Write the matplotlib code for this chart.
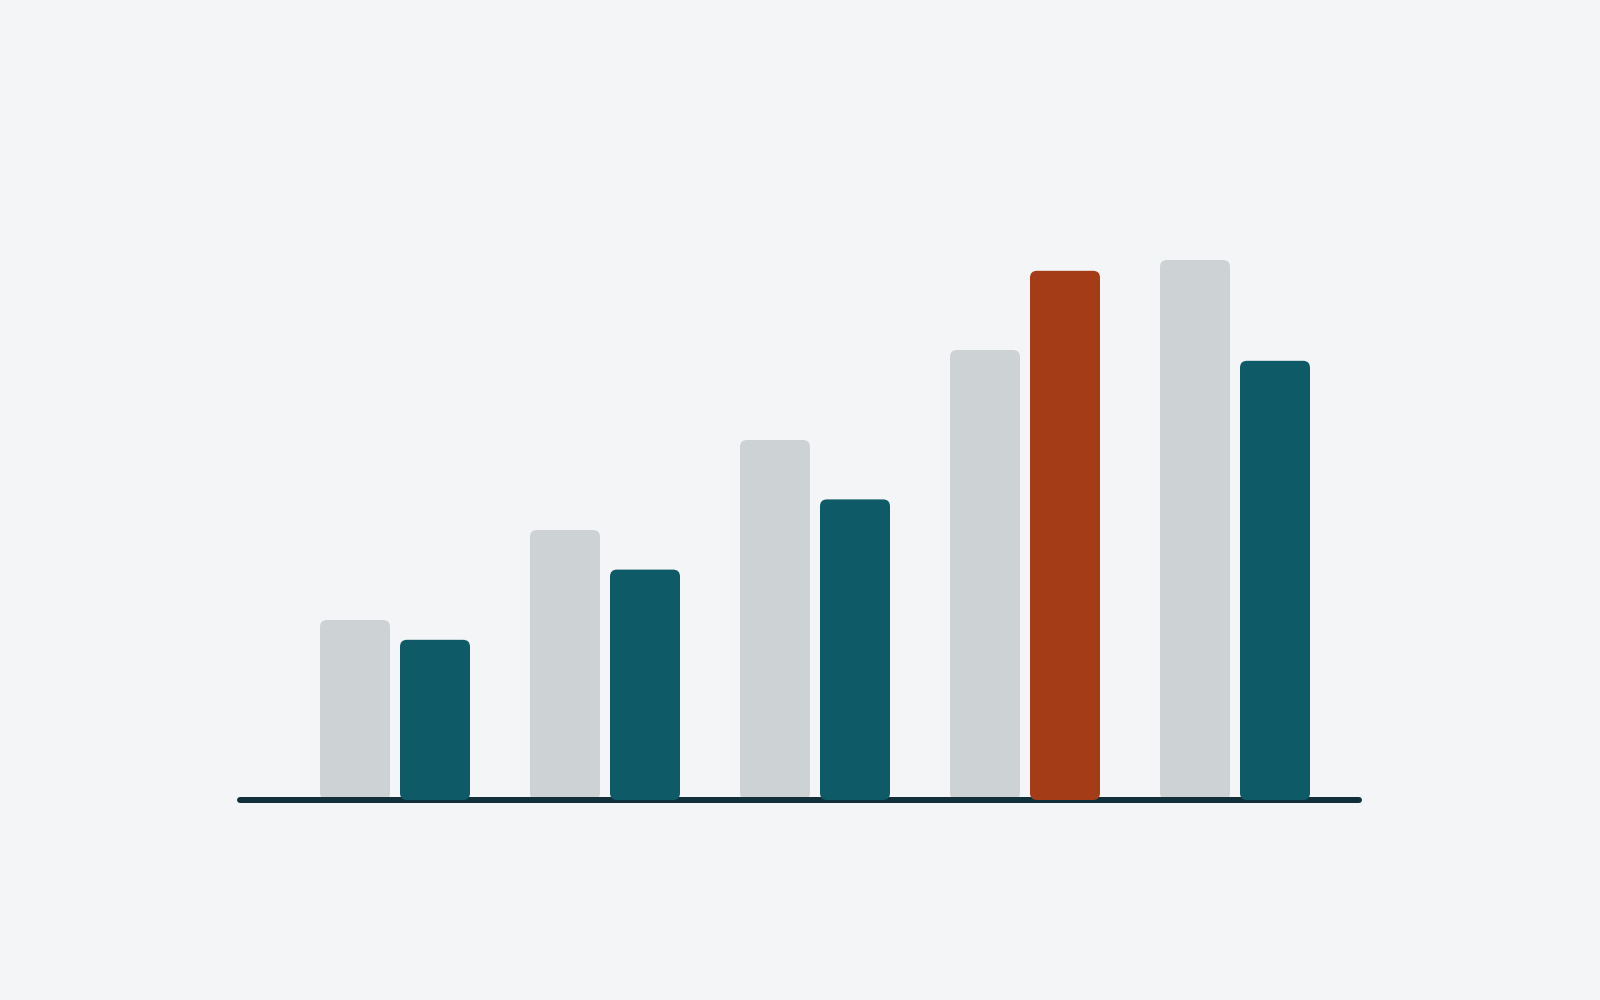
import numpy as np
import matplotlib.pyplot as plt
from matplotlib.patches import FancyBboxPatch

# values (no axis labels in the reference)
groups = [0, 1, 2, 3, 4]
before = [100, 150, 200, 250, 300]
after = [89, 128, 167, 294, 244]
highlight = [3]  # which "after" bar is drawn in red

bg = "#f4f5f7"
grey = "#cdd2d4"
teal = "#0f5a67"
red = "#a33c17"
dark = "#12303a"

fig = plt.figure(figsize=(16, 10), dpi=100, facecolor=bg)
ax = fig.add_axes([0, 0, 1, 1])
ax.set_facecolor(bg)

# pixel mapping: group spacing 210 px, 1.8 px per unit, baseline at y=800
ax.set_xlim(-395 / 210, (1600 - 395) / 210)
ax.set_ylim(-200 / 1.8, 800 / 1.8)
ax.axis("off")

w = 70 / 210
off = 40 / 210
r = 7 / 210
aspect = (7 / 1.8) / r


def rbar(x, h, color, z):
    p = FancyBboxPatch((x - w / 2, 0), w, h,
                       boxstyle=f"round,pad=0,rounding_size={r}",
                       mutation_aspect=aspect, fc=color, ec="none", zorder=z)
    ax.add_patch(p)


for i, g in enumerate(groups):
    rbar(g - off, before[i], grey, 1)
    rbar(g + off, after[i], red if i in highlight else teal, 3)

ax.plot([(240 - 395) / 210, (1359 - 395) / 210], [0, 0], color=dark,
        lw=6 * 72 / 100, solid_capstyle="round", zorder=2)

fig.savefig("out.png", dpi=100, facecolor=bg)
